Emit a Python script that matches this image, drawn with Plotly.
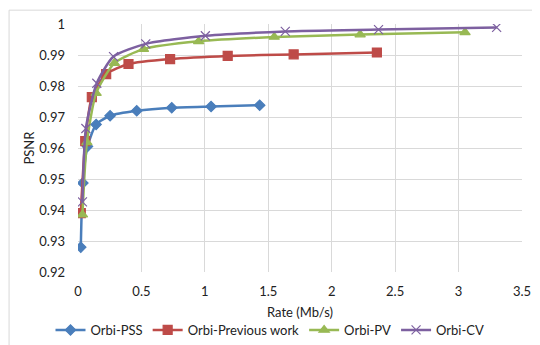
import plotly.graph_objects as go

pss_x = [0.022, 0.038, 0.075, 0.143, 0.253, 0.463, 0.739, 1.049, 1.432]
pss_y = [0.928, 0.9487, 0.9605, 0.9676, 0.9704, 0.9720, 0.9730, 0.9734, 0.9738]

prev_x = [0.022, 0.057, 0.109, 0.222, 0.398, 0.726, 1.18, 1.70, 2.356]
prev_y = [0.939, 0.9622, 0.9764, 0.9838, 0.9871, 0.9887, 0.9897, 0.9902, 0.9908]

pv_x = [0.035, 0.07, 0.143, 0.287, 0.516, 0.951, 1.547, 2.224, 3.051]
pv_y = [0.9385, 0.9618, 0.9777, 0.9874, 0.9919, 0.9944, 0.9958, 0.9966, 0.9973]

cv_x = [0.035, 0.062, 0.148, 0.28, 0.534, 1.004, 1.634, 2.369, 3.30]
cv_y = [0.9426, 0.9663, 0.9809, 0.9895, 0.9936, 0.9962, 0.9976, 0.9982, 0.9989]

x_ticks = [0, 0.5, 1, 1.5, 2, 2.5, 3, 3.5]
x_ticktext = ["0", "0.5", "1", "1.5", "2", "2.5", "3", "3.5"]
y_ticks = [0.92, 0.93, 0.94, 0.95, 0.96, 0.97, 0.98, 0.99, 1.0]
y_ticktext = ["0.92", "0.93", "0.94", "0.95", "0.96", "0.97", "0.98", "0.99", "1"]

series = [
    ("Orbi-PSS", pss_x, pss_y, "#4A7EBB", "diamond", 8),
    ("Orbi-Previous work", prev_x, prev_y, "#BE4B48", "square", 9),
    ("Orbi-PV", pv_x, pv_y, "#98B954", "triangle-up", 9),
    ("Orbi-CV", cv_x, cv_y, "#7D60A0", "x-thin-open", 9),
]

fig = go.Figure()
for name, xs, ys, col, sym, sz in series:
    fig.add_trace(go.Scatter(
        x=xs, y=ys, name=name, mode="lines+markers",
        line=dict(color=col, width=2.5, shape="spline", smoothing=0.6),
        marker=dict(symbol=sym, size=sz, color=col, line=dict(color=col, width=1.2)),
    ))

# page body has an 8px margin: screen coords = figure coords + 8
OFF = 8
font = "Lato, 'Open Sans', sans-serif"
W, H = 540 - OFF, 345 - OFF
L, R, T, B = 77.5 - OFF, 522.0 - OFF, 24.3 - OFF, 271.7 - OFF
pw, ph = R - L, B - T

def px(xs):
    return (xs - OFF - L) / pw

def py(ys):
    return (B - (ys - OFF)) / ph

fs = 13
fig.update_layout(
    width=W, height=H,
    margin=dict(l=L, r=W - R, t=T, b=H - B, autoexpand=False),
    paper_bgcolor="white", plot_bgcolor="white",
    font=dict(family=font, size=fs, color="#222222"),
    showlegend=True,
    legend=dict(orientation="h", xref="container", yref="container",
                x=(270 - OFF) / W, xanchor="center",
                y=(H - (330 - OFF)) / H, yanchor="middle",
                font=dict(size=fs), itemwidth=30, tracegroupgap=0,
                bgcolor="rgba(0,0,0,0)"),
    xaxis=dict(range=[0, 3.5], tickvals=x_ticks, ticktext=x_ticktext,
               showgrid=True, gridcolor="#D9D9D9", gridwidth=1, zeroline=False,
               showline=False, ticks="", ticklabelstandoff=10, automargin=False),
    yaxis=dict(range=[0.92, 1.0], tickvals=y_ticks, ticktext=y_ticktext,
               showgrid=True, gridcolor="#D9D9D9", gridwidth=1, zeroline=False,
               showline=False, ticks="", ticklabelstandoff=12, automargin=False),
)
fig.add_annotation(text="Rate (Mb/s)", xref="paper", yref="paper",
                   x=px(300), y=py(311.5), xanchor="center", yanchor="middle",
                   showarrow=False, font=dict(size=fs))
fig.add_annotation(text="PSNR", xref="paper", yref="paper", textangle=-90,
                   x=px(28), y=py(148), xanchor="center", yanchor="middle",
                   showarrow=False, font=dict(size=fs))
fig.add_shape(type="rect", xref="paper", yref="paper",
              x0=px(8.5), x1=px(548), y0=py(352), y1=py(10.5),
              line=dict(color="#D9D9D9", width=1), fillcolor="rgba(0,0,0,0)", layer="below")

fig.write_html("out.html")
